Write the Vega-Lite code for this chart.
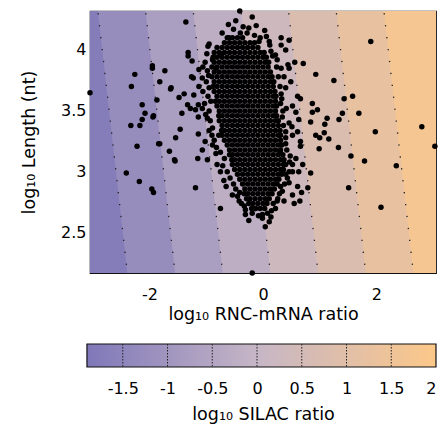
{
"$schema": "https://vega.github.io/schema/vega-lite/v6.json",
"padding": {"left": 19, "top": -3, "right": 2, "bottom": 5},
"config": {
  "font": "DejaVu Sans",
  "view": {"stroke": "#111", "strokeWidth": 1.2},
  "axis": {"labelFontSize": 16, "titleFontSize": 17.5, "titleFontWeight": "normal", "labelColor": "#000", "titleColor": "#000", "tickColor": "#222", "tickWidth": 1.2, "domain": false, "grid": false}
},
"datasets": {
  "bands": [
    {"band": "b1", "v": -1.75, "y": 4.4, "xl": -4.611, "xr": 5}, {"band": "b1", "v": -1.75, "y": 2.1, "xl": -4.054, "xr": 5},
    {"band": "b2", "v": -1.25, "y": 4.4, "xl": -2.930, "xr": 5}, {"band": "b2", "v": -1.25, "y": 2.1, "xl": -2.374, "xr": 5},
    {"band": "b3", "v": -0.75, "y": 4.4, "xl": -2.090, "xr": 5}, {"band": "b3", "v": -0.75, "y": 2.1, "xl": -1.533, "xr": 5},
    {"band": "b4", "v": -0.25, "y": 4.4, "xl": -1.250, "xr": 5}, {"band": "b4", "v": -0.25, "y": 2.1, "xl": -0.693, "xr": 5},
    {"band": "b5", "v": 0.25, "y": 4.4, "xl": -0.409, "xr": 5}, {"band": "b5", "v": 0.25, "y": 2.1, "xl": 0.147, "xr": 5},
    {"band": "b6", "v": 0.75, "y": 4.4, "xl": 0.431, "xr": 5}, {"band": "b6", "v": 0.75, "y": 2.1, "xl": 0.988, "xr": 5},
    {"band": "b7", "v": 1.25, "y": 4.4, "xl": 1.271, "xr": 5}, {"band": "b7", "v": 1.25, "y": 2.1, "xl": 1.828, "xr": 5},
    {"band": "b8", "v": 1.75, "y": 4.4, "xl": 2.112, "xr": 5}, {"band": "b8", "v": 1.75, "y": 2.1, "xl": 2.668, "xr": 5}
  ],
  "contours": [
    {"L": -1.5, "y": 4.4, "x": -2.930}, {"L": -1.5, "y": 2.1, "x": -2.374},
    {"L": -1, "y": 4.4, "x": -2.090}, {"L": -1, "y": 2.1, "x": -1.533},
    {"L": -0.5, "y": 4.4, "x": -1.250}, {"L": -0.5, "y": 2.1, "x": -0.693},
    {"L": 0, "y": 4.4, "x": -0.409}, {"L": 0, "y": 2.1, "x": 0.147},
    {"L": 0.5, "y": 4.4, "x": 0.431}, {"L": 0.5, "y": 2.1, "x": 0.988},
    {"L": 1, "y": 4.4, "x": 1.271}, {"L": 1, "y": 2.1, "x": 1.828},
    {"L": 1.5, "y": 4.4, "x": 2.112}, {"L": 1.5, "y": 2.1, "x": 2.668}
  ],
  "pts": [
    {"x":-0.63,"y":4.1},{"x":-0.54,"y":4.1},{"x":-0.45,"y":4.1},{"x":-0.36,"y":4.1},
    {"x":-0.68,"y":4.06},{"x":-0.59,"y":4.06},{"x":-0.5,"y":4.06},{"x":-0.41,"y":4.06},{"x":-0.32,"y":4.06},{"x":-0.23,"y":4.06},{"x":-0.15,"y":4.06},
    {"x":-0.81,"y":4.02},{"x":-0.72,"y":4.02},{"x":-0.63,"y":4.02},{"x":-0.54,"y":4.02},{"x":-0.45,"y":4.02},{"x":-0.36,"y":4.02},{"x":-0.27,"y":4.02},{"x":-0.18,"y":4.02},{"x":-0.09,"y":4.02},
    {"x":-0.86,"y":3.98},{"x":-0.77,"y":3.98},{"x":-0.68,"y":3.98},{"x":-0.59,"y":3.98},{"x":-0.5,"y":3.98},{"x":-0.41,"y":3.98},{"x":-0.32,"y":3.98},{"x":-0.23,"y":3.98},{"x":-0.14,"y":3.98},{"x":-0.05,"y":3.98},{"x":0.02,"y":3.98},
    {"x":-0.88,"y":3.94},{"x":-0.81,"y":3.94},{"x":-0.72,"y":3.94},{"x":-0.63,"y":3.94},{"x":-0.54,"y":3.94},{"x":-0.45,"y":3.94},{"x":-0.36,"y":3.94},{"x":-0.27,"y":3.94},{"x":-0.18,"y":3.94},{"x":-0.09,"y":3.94},{"x":0,"y":3.94},{"x":0.06,"y":3.94},
    {"x":-0.86,"y":3.9},{"x":-0.77,"y":3.9},{"x":-0.68,"y":3.9},{"x":-0.59,"y":3.9},{"x":-0.5,"y":3.9},{"x":-0.41,"y":3.9},{"x":-0.32,"y":3.9},{"x":-0.23,"y":3.9},{"x":-0.14,"y":3.9},{"x":-0.05,"y":3.9},{"x":0.04,"y":3.9},{"x":0.1,"y":3.9},
    {"x":-0.9,"y":3.86},{"x":-0.81,"y":3.86},{"x":-0.72,"y":3.86},{"x":-0.63,"y":3.86},{"x":-0.54,"y":3.86},{"x":-0.45,"y":3.86},{"x":-0.36,"y":3.86},{"x":-0.27,"y":3.86},{"x":-0.18,"y":3.86},{"x":-0.09,"y":3.86},{"x":0,"y":3.86},{"x":0.09,"y":3.86},
    {"x":-0.86,"y":3.82},{"x":-0.77,"y":3.82},{"x":-0.68,"y":3.82},{"x":-0.59,"y":3.82},{"x":-0.5,"y":3.82},{"x":-0.41,"y":3.82},{"x":-0.32,"y":3.82},{"x":-0.23,"y":3.82},{"x":-0.14,"y":3.82},{"x":-0.05,"y":3.82},{"x":0.04,"y":3.82},{"x":0.13,"y":3.82},
    {"x":-0.9,"y":3.78},{"x":-0.81,"y":3.78},{"x":-0.72,"y":3.78},{"x":-0.63,"y":3.78},{"x":-0.54,"y":3.78},{"x":-0.45,"y":3.78},{"x":-0.36,"y":3.78},{"x":-0.27,"y":3.78},{"x":-0.18,"y":3.78},{"x":-0.09,"y":3.78},{"x":0,"y":3.78},{"x":0.09,"y":3.78},{"x":0.16,"y":3.78},
    {"x":-0.86,"y":3.74},{"x":-0.77,"y":3.74},{"x":-0.68,"y":3.74},{"x":-0.59,"y":3.74},{"x":-0.5,"y":3.74},{"x":-0.41,"y":3.74},{"x":-0.32,"y":3.74},{"x":-0.23,"y":3.74},{"x":-0.14,"y":3.74},{"x":-0.05,"y":3.74},{"x":0.04,"y":3.74},{"x":0.13,"y":3.74},{"x":0.19,"y":3.74},
    {"x":-0.88,"y":3.7},{"x":-0.81,"y":3.7},{"x":-0.72,"y":3.7},{"x":-0.63,"y":3.7},{"x":-0.54,"y":3.7},{"x":-0.45,"y":3.7},{"x":-0.36,"y":3.7},{"x":-0.27,"y":3.7},{"x":-0.18,"y":3.7},{"x":-0.09,"y":3.7},{"x":0,"y":3.7},{"x":0.09,"y":3.7},{"x":0.18,"y":3.7},
    {"x":-0.86,"y":3.66},{"x":-0.77,"y":3.66},{"x":-0.68,"y":3.66},{"x":-0.59,"y":3.66},{"x":-0.5,"y":3.66},{"x":-0.41,"y":3.66},{"x":-0.32,"y":3.66},{"x":-0.23,"y":3.66},{"x":-0.14,"y":3.66},{"x":-0.05,"y":3.66},{"x":0.04,"y":3.66},{"x":0.13,"y":3.66},{"x":0.21,"y":3.66},
    {"x":-0.81,"y":3.62},{"x":-0.72,"y":3.62},{"x":-0.63,"y":3.62},{"x":-0.54,"y":3.62},{"x":-0.45,"y":3.62},{"x":-0.36,"y":3.62},{"x":-0.27,"y":3.62},{"x":-0.18,"y":3.62},{"x":-0.09,"y":3.62},{"x":0,"y":3.62},{"x":0.09,"y":3.62},{"x":0.18,"y":3.62},{"x":0.23,"y":3.62},
    {"x":-0.84,"y":3.58},{"x":-0.77,"y":3.58},{"x":-0.68,"y":3.58},{"x":-0.59,"y":3.58},{"x":-0.5,"y":3.58},{"x":-0.41,"y":3.58},{"x":-0.32,"y":3.58},{"x":-0.23,"y":3.58},{"x":-0.14,"y":3.58},{"x":-0.05,"y":3.58},{"x":0.04,"y":3.58},{"x":0.13,"y":3.58},{"x":0.22,"y":3.58},
    {"x":-0.81,"y":3.54},{"x":-0.72,"y":3.54},{"x":-0.63,"y":3.54},{"x":-0.54,"y":3.54},{"x":-0.45,"y":3.54},{"x":-0.36,"y":3.54},{"x":-0.27,"y":3.54},{"x":-0.18,"y":3.54},{"x":-0.09,"y":3.54},{"x":0,"y":3.54},{"x":0.09,"y":3.54},{"x":0.18,"y":3.54},{"x":0.24,"y":3.54},
    {"x":-0.77,"y":3.5},{"x":-0.68,"y":3.5},{"x":-0.59,"y":3.5},{"x":-0.5,"y":3.5},{"x":-0.41,"y":3.5},{"x":-0.32,"y":3.5},{"x":-0.23,"y":3.5},{"x":-0.14,"y":3.5},{"x":-0.05,"y":3.5},{"x":0.04,"y":3.5},{"x":0.13,"y":3.5},{"x":0.22,"y":3.5},
    {"x":-0.78,"y":3.46},{"x":-0.72,"y":3.46},{"x":-0.63,"y":3.46},{"x":-0.54,"y":3.46},{"x":-0.45,"y":3.46},{"x":-0.36,"y":3.46},{"x":-0.27,"y":3.46},{"x":-0.18,"y":3.46},{"x":-0.09,"y":3.46},{"x":0,"y":3.46},{"x":0.09,"y":3.46},{"x":0.18,"y":3.46},{"x":0.24,"y":3.46},
    {"x":-0.77,"y":3.42},{"x":-0.68,"y":3.42},{"x":-0.59,"y":3.42},{"x":-0.5,"y":3.42},{"x":-0.41,"y":3.42},{"x":-0.32,"y":3.42},{"x":-0.23,"y":3.42},{"x":-0.14,"y":3.42},{"x":-0.05,"y":3.42},{"x":0.04,"y":3.42},{"x":0.13,"y":3.42},{"x":0.22,"y":3.42},{"x":0.27,"y":3.42},
    {"x":-0.72,"y":3.38},{"x":-0.63,"y":3.38},{"x":-0.54,"y":3.38},{"x":-0.45,"y":3.38},{"x":-0.36,"y":3.38},{"x":-0.27,"y":3.38},{"x":-0.18,"y":3.38},{"x":-0.09,"y":3.38},{"x":0,"y":3.38},{"x":0.09,"y":3.38},{"x":0.18,"y":3.38},{"x":0.27,"y":3.38},
    {"x":-0.73,"y":3.34},{"x":-0.68,"y":3.34},{"x":-0.59,"y":3.34},{"x":-0.5,"y":3.34},{"x":-0.41,"y":3.34},{"x":-0.32,"y":3.34},{"x":-0.23,"y":3.34},{"x":-0.14,"y":3.34},{"x":-0.05,"y":3.34},{"x":0.04,"y":3.34},{"x":0.13,"y":3.34},{"x":0.22,"y":3.34},{"x":0.3,"y":3.34},
    {"x":-0.72,"y":3.3},{"x":-0.63,"y":3.3},{"x":-0.54,"y":3.3},{"x":-0.45,"y":3.3},{"x":-0.36,"y":3.3},{"x":-0.27,"y":3.3},{"x":-0.18,"y":3.3},{"x":-0.09,"y":3.3},{"x":0,"y":3.3},{"x":0.09,"y":3.3},{"x":0.18,"y":3.3},{"x":0.27,"y":3.3},{"x":0.31,"y":3.3},
    {"x":-0.68,"y":3.26},{"x":-0.59,"y":3.26},{"x":-0.5,"y":3.26},{"x":-0.41,"y":3.26},{"x":-0.32,"y":3.26},{"x":-0.23,"y":3.26},{"x":-0.14,"y":3.26},{"x":-0.05,"y":3.26},{"x":0.04,"y":3.26},{"x":0.13,"y":3.26},{"x":0.22,"y":3.26},{"x":0.31,"y":3.26},
    {"x":-0.63,"y":3.22},{"x":-0.54,"y":3.22},{"x":-0.45,"y":3.22},{"x":-0.36,"y":3.22},{"x":-0.27,"y":3.22},{"x":-0.18,"y":3.22},{"x":-0.09,"y":3.22},{"x":0,"y":3.22},{"x":0.09,"y":3.22},{"x":0.18,"y":3.22},{"x":0.27,"y":3.22},{"x":0.33,"y":3.22},
    {"x":-0.59,"y":3.18},{"x":-0.5,"y":3.18},{"x":-0.41,"y":3.18},{"x":-0.32,"y":3.18},{"x":-0.23,"y":3.18},{"x":-0.14,"y":3.18},{"x":-0.05,"y":3.18},{"x":0.04,"y":3.18},{"x":0.13,"y":3.18},{"x":0.22,"y":3.18},{"x":0.31,"y":3.18},
    {"x":-0.59,"y":3.14},{"x":-0.54,"y":3.14},{"x":-0.45,"y":3.14},{"x":-0.36,"y":3.14},{"x":-0.27,"y":3.14},{"x":-0.18,"y":3.14},{"x":-0.09,"y":3.14},{"x":0,"y":3.14},{"x":0.09,"y":3.14},{"x":0.18,"y":3.14},{"x":0.27,"y":3.14},{"x":0.35,"y":3.14},
    {"x":-0.55,"y":3.1},{"x":-0.5,"y":3.1},{"x":-0.41,"y":3.1},{"x":-0.32,"y":3.1},{"x":-0.23,"y":3.1},{"x":-0.14,"y":3.1},{"x":-0.05,"y":3.1},{"x":0.04,"y":3.1},{"x":0.13,"y":3.1},{"x":0.22,"y":3.1},{"x":0.31,"y":3.1},{"x":0.37,"y":3.1},
    {"x":-0.54,"y":3.06},{"x":-0.45,"y":3.06},{"x":-0.36,"y":3.06},{"x":-0.27,"y":3.06},{"x":-0.18,"y":3.06},{"x":-0.09,"y":3.06},{"x":0,"y":3.06},{"x":0.09,"y":3.06},{"x":0.18,"y":3.06},{"x":0.27,"y":3.06},{"x":0.36,"y":3.06},
    {"x":-0.5,"y":3.02},{"x":-0.41,"y":3.02},{"x":-0.32,"y":3.02},{"x":-0.23,"y":3.02},{"x":-0.14,"y":3.02},{"x":-0.05,"y":3.02},{"x":0.04,"y":3.02},{"x":0.13,"y":3.02},{"x":0.22,"y":3.02},{"x":0.31,"y":3.02},{"x":0.36,"y":3.02},
    {"x":-0.45,"y":2.98},{"x":-0.36,"y":2.98},{"x":-0.27,"y":2.98},{"x":-0.18,"y":2.98},{"x":-0.09,"y":2.98},{"x":0,"y":2.98},{"x":0.09,"y":2.98},{"x":0.18,"y":2.98},{"x":0.27,"y":2.98},{"x":0.33,"y":2.98},
    {"x":-0.41,"y":2.94},{"x":-0.32,"y":2.94},{"x":-0.23,"y":2.94},{"x":-0.14,"y":2.94},{"x":-0.05,"y":2.94},{"x":0.04,"y":2.94},{"x":0.13,"y":2.94},{"x":0.22,"y":2.94},{"x":0.28,"y":2.94},
    {"x":-0.36,"y":2.9},{"x":-0.27,"y":2.9},{"x":-0.18,"y":2.9},{"x":-0.09,"y":2.9},{"x":0,"y":2.9},{"x":0.09,"y":2.9},{"x":0.18,"y":2.9},{"x":0.25,"y":2.9},
    {"x":-0.32,"y":2.86},{"x":-0.23,"y":2.86},{"x":-0.14,"y":2.86},{"x":-0.05,"y":2.86},{"x":0.04,"y":2.86},{"x":0.13,"y":2.86},{"x":0.2,"y":2.86},
    {"x":-0.33,"y":2.82},{"x":-0.27,"y":2.82},{"x":-0.18,"y":2.82},{"x":-0.09,"y":2.82},{"x":0,"y":2.82},{"x":0.09,"y":2.82},{"x":0.16,"y":2.82},
    {"x":-0.29,"y":2.78},{"x":-0.23,"y":2.78},{"x":-0.14,"y":2.78},{"x":-0.05,"y":2.78},{"x":0.04,"y":2.78},{"x":0.11,"y":2.78},
    {"x":-0.25,"y":2.74},{"x":-0.18,"y":2.74},{"x":-0.09,"y":2.74},{"x":0,"y":2.74},{"x":0.07,"y":2.74},
    {"x":-0.2,"y":2.7},{"x":-0.14,"y":2.7},{"x":-0.05,"y":2.7},{"x":0.03,"y":2.7},
    {"x":-0.95,"y":4.05},{"x":-0.99,"y":3.97},{"x":-1.02,"y":3.9},{"x":-0.98,"y":3.83},{"x":-1.0,"y":3.74},{"x":-0.97,"y":3.62},{"x":-1.03,"y":3.56},{"x":-0.95,"y":3.5},{"x":-0.93,"y":3.42},{"x":-0.9,"y":3.3},
    {"x":-0.86,"y":3.26},{"x":-0.82,"y":3.2},{"x":-0.75,"y":3.16},{"x":-0.71,"y":3.05},{"x":-0.63,"y":3.0},{"x":-0.58,"y":2.95},{"x":-0.52,"y":2.9},{"x":-0.48,"y":2.86},{"x":-0.45,"y":2.8},{"x":-0.38,"y":2.74},
    {"x":-0.33,"y":2.72},{"x":-0.72,"y":4.14},{"x":-0.52,"y":4.17},{"x":-0.35,"y":4.19},{"x":-0.15,"y":4.12},{"x":-0.05,"y":4.1},{"x":-0.48,"y":4.24},{"x":-0.12,"y":4.2},
    {"x":0.12,"y":4.04},{"x":0.17,"y":3.95},{"x":0.24,"y":3.86},{"x":0.27,"y":3.78},{"x":0.3,"y":3.7},{"x":0.32,"y":3.64},{"x":0.31,"y":3.56},{"x":0.35,"y":3.5},{"x":0.36,"y":3.38},{"x":0.4,"y":3.28},
    {"x":0.42,"y":3.18},{"x":0.47,"y":3.08},{"x":0.46,"y":3.0},{"x":0.43,"y":2.95},{"x":0.38,"y":2.9},{"x":0.29,"y":2.82},{"x":0.25,"y":2.76},{"x":0.15,"y":2.68},{"x":0.08,"y":2.66},{"x":-0.08,"y":2.64},{"x":-0.19,"y":2.66},
    {"x":-3.05,"y":3.65},{"x":-0.41,"y":4.32},{"x":-0.19,"y":4.27},{"x":-1.36,"y":4.23},{"x":-0.61,"y":4.21},{"x":0.03,"y":4.16},{"x":-0.4,"y":4.14},{"x":-0.28,"y":4.14},{"x":0.06,"y":4.11},{"x":0.32,"y":4.1},
    {"x":-0.97,"y":4.03},{"x":1.9,"y":4.07},{"x":-1.32,"y":3.98},{"x":-1.32,"y":3.95},{"x":-1.25,"y":3.91},{"x":-1.13,"y":3.84},{"x":0.22,"y":3.96},{"x":0.32,"y":4.04},{"x":0.56,"y":3.9},{"x":0.71,"y":3.89},
    {"x":0.44,"y":3.88},{"x":0.32,"y":3.85},{"x":-1.95,"y":3.87},{"x":-1.95,"y":3.85},{"x":-1.73,"y":3.83},{"x":-2.26,"y":3.8},{"x":0.93,"y":3.8},{"x":1.25,"y":3.75},{"x":-1.82,"y":3.74},{"x":-2.32,"y":3.7},
    {"x":-1.62,"y":3.69},{"x":-1.63,"y":3.68},{"x":-1.48,"y":3.61},{"x":-1.87,"y":3.59},{"x":-2.13,"y":3.55},{"x":-1.33,"y":3.55},{"x":1.43,"y":3.6},{"x":1.58,"y":3.62},{"x":0.87,"y":3.56},{"x":0.52,"y":3.54},
    {"x":-2.08,"y":3.48},{"x":-2.13,"y":3.43},{"x":-1.93,"y":3.46},{"x":-1.94,"y":3.45},{"x":-1.43,"y":3.48},{"x":-2.33,"y":3.38},{"x":-2.17,"y":3.38},{"x":1.13,"y":3.44},{"x":0.87,"y":3.49},{"x":1.69,"y":3.48},
    {"x":1.34,"y":3.43},{"x":1.4,"y":3.48},{"x":2.8,"y":3.37},{"x":1.98,"y":3.33},{"x":1.09,"y":3.39},{"x":0.84,"y":3.41},{"x":0.93,"y":3.3},{"x":1,"y":3.28},{"x":1.16,"y":3.27},{"x":3.03,"y":3.21},
    {"x":1.33,"y":3.2},{"x":-1.82,"y":3.23},{"x":-1.84,"y":3.23},{"x":-2.22,"y":3.21},{"x":-1.14,"y":3.31},{"x":-0.95,"y":3.34},{"x":-1.46,"y":3.35},{"x":-1.54,"y":3.28},{"x":-1.65,"y":3.17},{"x":-1.56,"y":3.1},
    {"x":-1.55,"y":3.09},{"x":-1.15,"y":3.11},{"x":-0.98,"y":3.1},{"x":1.55,"y":3.13},{"x":1.79,"y":3.09},{"x":2.35,"y":3.05},{"x":-2.41,"y":2.99},{"x":-2.18,"y":2.92},{"x":-1.96,"y":2.86},{"x":-1.93,"y":2.83},
    {"x":-1.19,"y":2.87},{"x":-0.69,"y":2.93},{"x":1.51,"y":2.87},{"x":2.08,"y":2.71},{"x":-0.75,"y":2.7},{"x":-0.41,"y":2.83},{"x":0.04,"y":2.55},{"x":-0.19,"y":2.17},{"x":0.55,"y":2.74},{"x":0.79,"y":2.87},
    {"x":0.63,"y":3},{"x":0.84,"y":2.99},{"x":0.7,"y":3.06},{"x":0.26,"y":2.78},{"x":0.37,"y":2.76},{"x":0.11,"y":2.59},{"x":0.14,"y":2.63},{"x":-0.25,"y":2.6},{"x":-0.01,"y":2.62},{"x":0.66,"y":3.21},
    {"x":0.66,"y":3.25},{"x":0.61,"y":3.33},{"x":0.51,"y":3.37},{"x":0.63,"y":3.43},{"x":0.4,"y":3.23},{"x":0.48,"y":3.13},{"x":0.52,"y":3.06},{"x":0.46,"y":2.91},{"x":0.34,"y":2.84},{"x":0.18,"y":2.74},
    {"x":-0.42,"y":2.76},{"x":-0.31,"y":2.69},{"x":-0.31,"y":2.65},
    {"x":-1.23,"y":3.77},{"x":-1.13,"y":3.7},{"x":-1.07,"y":3.77},{"x":-1.06,"y":3.66},{"x":-1.22,"y":3.63},{"x":-1.28,"y":3.52},{"x":-1.19,"y":3.51},{"x":-1.07,"y":3.52},{"x":-1.01,"y":3.47},{"x":-1.14,"y":3.45},
    {"x":-0.98,"y":3.44},{"x":-0.92,"y":3.58},{"x":-0.95,"y":3.69},{"x":-0.96,"y":3.79},{"x":-1.06,"y":3.86},{"x":-0.89,"y":3.92},{"x":-1.07,"y":3.18},{"x":-1.02,"y":3.25},{"x":-0.89,"y":3.22},{"x":-0.83,"y":3.15},
    {"x":-0.81,"y":3.06},{"x":-0.75,"y":3},{"x":-0.68,"y":3.11},{"x":-0.65,"y":2.88},{"x":-0.54,"y":2.81},{"x":-1.14,"y":3.55},{"x":-1.26,"y":3.78},{"x":-1.39,"y":3.64},{"x":-0.6,"y":4.1},{"x":-0.75,"y":3.96},
    {"x":-0.83,"y":3.85},{"x":-0.89,"y":3.36},{"x":-0.78,"y":3.3},
    {"x":0.46,"y":3.85},{"x":0.37,"y":3.78},{"x":0.49,"y":3.74},{"x":0.4,"y":3.69},{"x":0.33,"y":3.6},{"x":0.61,"y":3.62},{"x":0.66,"y":3.6},{"x":0.41,"y":3.52},{"x":0.34,"y":3.45},{"x":0.46,"y":3.4},
    {"x":0.58,"y":3.49},{"x":0.4,"y":3.33},{"x":0.52,"y":3.3},{"x":0.3,"y":3.17},{"x":0.52,"y":3},{"x":0.4,"y":2.98},{"x":0.58,"y":3.11},{"x":0.4,"y":3.06},{"x":0.31,"y":2.88},{"x":0.52,"y":2.81},
    {"x":0.61,"y":2.88},{"x":0.22,"y":2.7},{"x":-0.01,"y":2.65},{"x":-0.13,"y":2.7},{"x":0.25,"y":3.92},{"x":0.11,"y":4.07},{"x":-0.07,"y":4.07},{"x":-0.25,"y":4.18},{"x":0.14,"y":3.99},{"x":0.4,"y":4},
    {"x":0.96,"y":3.51},{"x":1.08,"y":3.32},{"x":0.99,"y":3.19},{"x":0.46,"y":4.08},{"x":0.65,"y":2.76},{"x":0.68,"y":2.83}
  ]
},
"spacing": 19,
"vconcat": [
  {
    "width": 346, "height": 262,
    "layer": [
      {
        "data": {"name": "bands"},
        "mark": {"type": "area", "orient": "horizontal", "clip": true, "opacity": 1, "fillOpacity": 1},
        "encoding": {
          "y": {"field": "y", "type": "quantitative", "scale": {"domain": [2.17, 4.32], "nice": false, "zero": false}, "axis": null},
          "x": {"field": "xl", "type": "quantitative", "scale": {"domain": [-3.05, 3.05], "nice": false, "zero": false}, "axis": null},
          "x2": {"field": "xr"},
          "color": {"field": "v", "type": "quantitative", "scale": {"domain": [-1.9, 0, 2], "range": ["#7f78b9", "#c6b6c6", "#fcc889"], "interpolate": "rgb"}, "legend": null},
          "detail": {"field": "band", "type": "nominal"}
        }
      },
      {
        "data": {"name": "contours"},
        "mark": {"type": "line", "clip": true, "strokeDash": [1.3, 10.7], "strokeWidth": 1.3, "color": "#222"},
        "encoding": {
          "x": {"field": "x", "type": "quantitative", "axis": null},
          "y": {"field": "y", "type": "quantitative", "axis": null},
          "detail": {"field": "L", "type": "nominal"}
        }
      },
      {
        "data": {"name": "pts"},
        "mark": {"type": "circle", "size": 30, "color": "#000", "opacity": 1},
        "encoding": {
          "x": {"field": "x", "type": "quantitative", "scale": {"domain": [-3.05, 3.05], "nice": false, "zero": false},
                "axis": {"orient": "bottom", "values": [-2, 0, 2], "tickSize": -8, "labelPadding": 21, "titlePadding": 3, "title": "log₁₀ RNC-mRNA ratio", "labelExpr": "datum.value < 0 ? '-' + abs(datum.value) : '' + datum.value"}},
          "y": {"field": "y", "type": "quantitative", "scale": {"domain": [2.17, 4.32], "nice": false, "zero": false},
                "axis": {"orient": "left", "values": [2.5, 3, 3.5, 4], "tickSize": -8, "labelPadding": 12, "titlePadding": 22, "title": "log₁₀ Length (nt)", "labelExpr": "'' + datum.value"}}
        }
      },
      {
        "data": {"name": "contours"},
        "mark": {"type": "point", "opacity": 0},
        "encoding": {
          "x": {"field": "x", "type": "quantitative", "axis": {"orient": "top", "values": [-2, 0, 2], "tickSize": -8, "labels": false, "title": null}},
          "y": {"field": "y", "type": "quantitative", "axis": {"orient": "right", "values": [2.5, 3, 3.5, 4], "tickSize": -8, "labels": false, "title": null}}
        }
      }
    ]
  },
  {
    "width": 346, "height": 23,
    "view": {"stroke": null},
    "layer": [
      {
        "data": {"values": [{"lo": -1.9, "hi": 2}]},
        "mark": {"type": "rect", "stroke": "#111", "strokeWidth": 1.2,
                 "fill": {"gradient": "linear", "x1": 0, "x2": 1, "y1": 0, "y2": 0,
                          "stops": [{"offset": 0, "color": "#7f78b9"}, {"offset": 0.487, "color": "#c6b6c6"}, {"offset": 1, "color": "#fcc889"}]}},
        "encoding": {
          "x": {"field": "lo", "type": "quantitative", "scale": {"domain": [-1.866, 2], "nice": false, "zero": false},
                "axis": {"values": [-1.5, -1, -0.5, 0, 0.5, 1, 1.5, 2], "ticks": false, "labelPadding": 13, "labelFlush": true, "titlePadding": 9, "title": "log₁₀ SILAC ratio", "labelExpr": "datum.value < 0 ? '-' + abs(datum.value) : '' + datum.value"}},
          "x2": {"field": "hi"}
        }
      },
      {
        "data": {"values": [{"v": -1.5}, {"v": -1}, {"v": -0.5}, {"v": 0}, {"v": 0.5}, {"v": 1}, {"v": 1.5}]},
        "mark": {"type": "rule", "strokeDash": [1.5, 1.5], "strokeWidth": 1, "color": "#222"},
        "encoding": {
          "x": {"field": "v", "type": "quantitative", "title": "log₁₀ SILAC ratio"}
        }
      }
    ]
  }
]
}
